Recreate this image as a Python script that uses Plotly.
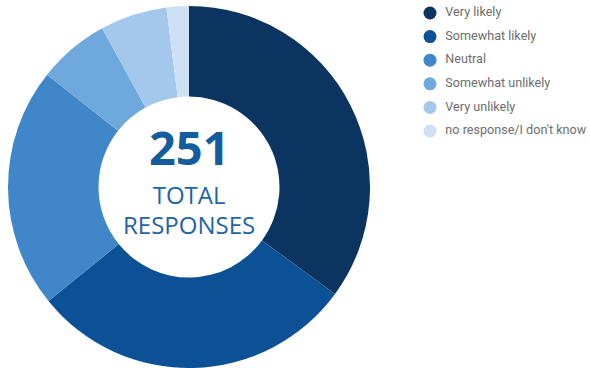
import plotly.graph_objects as go

# Survey answers and number of responses for each
categories = ["Very likely", "Somewhat likely", "Neutral",
              "Somewhat unlikely", "Very unlikely", "no response/I don't know"]
responses = [88, 73, 54, 16, 15, 5]
colors = ["#0b3560", "#0c5195", "#3f87c8", "#6fa8dd", "#a3c8ec", "#cde0f4"]

W, H = 590, 368
total = sum(responses)

fig = go.Figure()

# Donut ring
cx, cy, r = 189, 187, 181
fig.add_trace(go.Pie(
    labels=categories,
    values=responses,
    sort=False,
    direction="clockwise",
    rotation=0,
    hole=0.5,
    marker=dict(colors=colors, line=dict(width=0)),
    textinfo="none",
    hoverinfo="label+value",
    showlegend=False,
    domain=dict(x=[(cx - r) / W, (cx + r) / W],
                y=[(H - cy - r) / H, (H - cy + r) / H]),
))

# Legend drawn as circle markers with labels on a hidden overlay axis
leg_x = 430 / W
leg_top = 13
leg_step = 23.6
fig.add_trace(go.Scatter(
    x=[leg_x] * len(categories),
    y=[(H - (leg_top + i * leg_step)) / H for i in range(len(categories))],
    mode="markers+text",
    marker=dict(size=13, color=colors, symbol="circle"),
    text=["  " + c for c in categories],
    textposition="middle right",
    textfont=dict(family="Roboto, Arial, sans-serif", size=12.6, color="#6e6e6e"),
    hoverinfo="skip",
    showlegend=False,
    cliponaxis=False,
))

# Centre label: the total, then the caption on two lines
center_font = "Open Sans, Arial, sans-serif"
fig.add_annotation(x=cx / W, y=(H - 147) / H, xref="paper", yref="paper",
                   xanchor="center", yanchor="middle",
                   text=f"<b>{total}</b>", showarrow=False,
                   font=dict(family=center_font, size=47, color="#135d9e"))
fig.add_annotation(x=cx / W, y=(H - 209) / H, xref="paper", yref="paper",
                   xanchor="center", yanchor="middle",
                   text="<span style='font-size:24px'>TOTAL</span><br>"
                        "<span style='font-size:24px'>RESPONSES</span>",
                   showarrow=False,
                   font=dict(family=center_font, size=23, color="#1d64a8"))

fig.update_layout(
    width=W, height=H,
    margin=dict(l=0, r=0, t=0, b=0),
    paper_bgcolor="white",
    plot_bgcolor="rgba(0,0,0,0)",
    xaxis=dict(visible=False, range=[0, 1], domain=[0, 1], fixedrange=True),
    yaxis=dict(visible=False, range=[0, 1], domain=[0, 1], fixedrange=True),
)

fig.write_html("out.html")
